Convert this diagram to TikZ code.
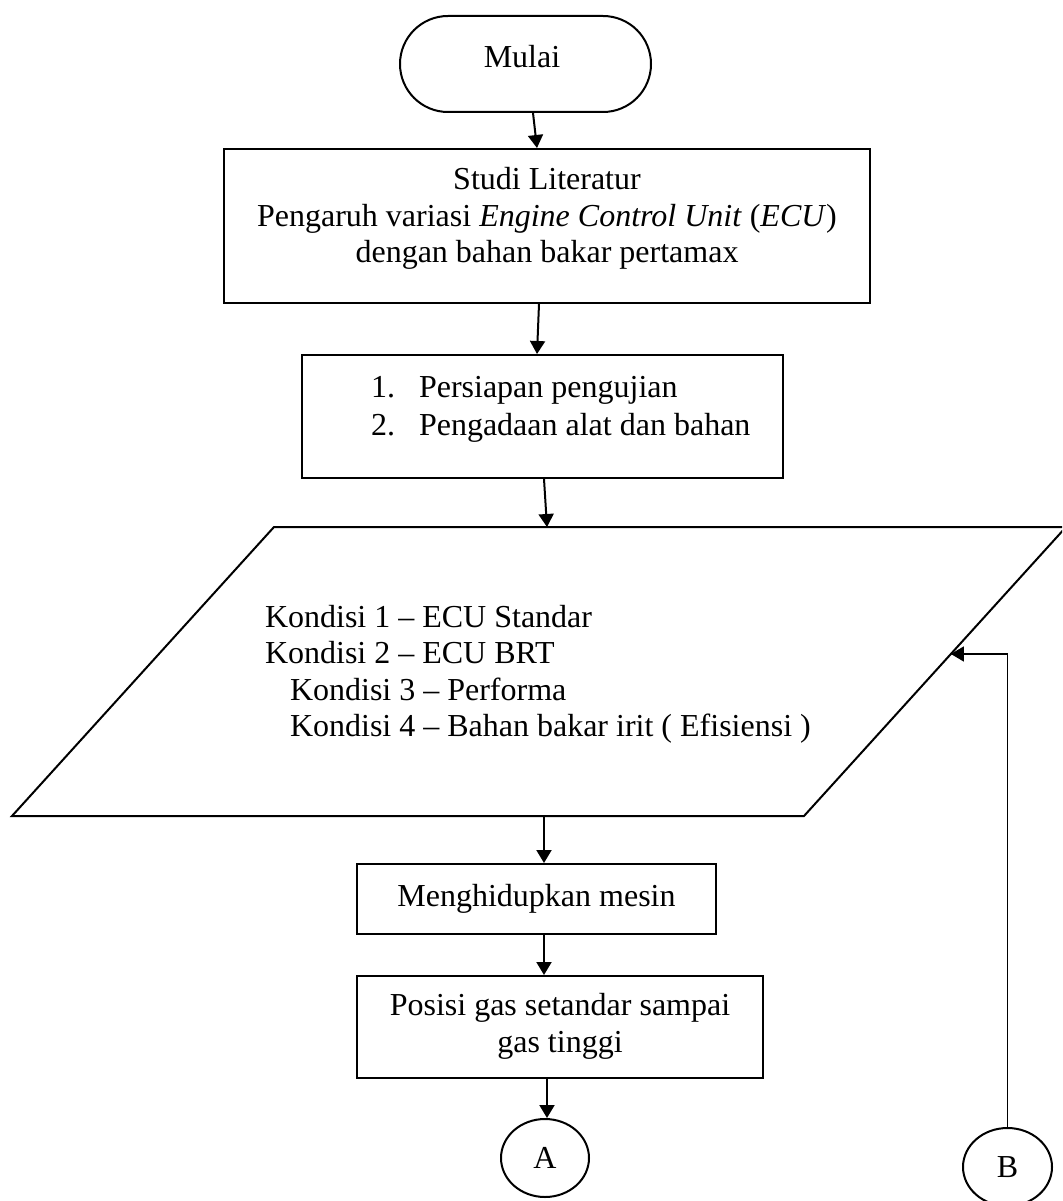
\documentclass[tikz,border=0pt]{standalone}
\usepackage{fontspec}
\setmainfont{Liberation Serif}
\usetikzlibrary{arrows.meta,calc,shapes.geometric}
\begin{document}
\begin{tikzpicture}[x=1pt,y=-1pt,
  line width=2pt,
  arr/.style={-{Triangle[length=13pt,width=15pt]}, line width=2pt},
  boxs/.style={draw, line width=2pt, inner sep=0pt},
  txt/.style={font=\fontsize{32}{36.5}\selectfont, inner sep=0pt},
  conn/.style={draw, ellipse, line width=2pt, inner sep=0pt, minimum width=88pt, minimum height=78pt, font=\fontsize{32}{36.5}\selectfont}
]
\useasboundingbox (0,0) rectangle (1062,1201);
\clip (0,0) rectangle (1062,1201);

% Mulai
\node[boxs, rounded corners=48pt, minimum width=251pt, minimum height=96pt] (mulai) at (525.5,64) {};
\node[txt] (mulaitxt) at (522,57) {Mulai};

% Studi literatur
\node[boxs, minimum width=646pt, minimum height=154pt] (studi) at (547,226) {};
\node[txt, align=center] (studitxt) at (547,218.5) {Studi Literatur\\Pengaruh variasi \textit{Engine Control Unit} (\textit{ECU})\\dengan bahan bakar pertamax};

% Persiapan
\node[boxs, minimum width=481pt, minimum height=123pt] (persiapan) at (542.5,416.5) {};
\node[txt, font=\fontsize{32}{38}\selectfont, anchor=west] (persiapantxt) at (370,408.4)
  {\begin{tabular}{@{}l@{\hspace{24pt}}l@{}}1.&Persiapan pengujian\\2.&Pengadaan alat dan bahan\end{tabular}};

% Parallelogram (input data)
\coordinate (p1) at (274,527);
\coordinate (p2) at (1066,527);
\coordinate (p3) at (804,816);
\coordinate (p4) at (12,816);
\draw[line width=2pt, line join=miter] (p1) -- (p2) -- (p3) -- (p4) -- cycle;
\node[txt, align=left, anchor=west] (kondisi) at (264,674.5)
  {Kondisi 1 -- ECU Standar\\Kondisi 2 -- ECU BRT\\\hspace*{25pt}Kondisi 3 -- Performa\\\hspace*{25pt}Kondisi 4 -- Bahan bakar irit ( Efisiensi )};
\coordinate (ptop) at (547,527);
\coordinate (pbot) at (544,816);
\coordinate (pin) at ($(p2)!0.4394!(p3)$);

% Menghidupkan mesin
\node[boxs, txt, draw, line width=2pt, minimum width=359pt, minimum height=70pt] (mesin) at (536.5,899) {Menghidupkan mesin};

% Posisi gas
\node[boxs, minimum width=406pt, minimum height=102pt] (posisi) at (560,1027) {};
\node[txt, align=center] (posisitxt) at (560,1026.5) {Posisi gas setandar sampai\\gas tinggi};

% Connectors A and B
\node[conn] (A) at (545,1158) {A};
\node[conn, minimum width=89pt] (B) at (1007.5,1167) {B};

% Arrows
\draw[arr] ([xshift=7.5pt]mulai.south) -- ([xshift=-10pt]studi.north);
\draw[arr] ([xshift=-8pt]studi.south) -- ([xshift=-5.5pt]persiapan.north);
\draw[arr] ([xshift=1.5pt]persiapan.south) -- (ptop);
\draw[arr] (pbot) -- ([xshift=7.5pt]mesin.north);
\draw[arr] ([xshift=7.5pt]mesin.south) -- ([xshift=-16pt]posisi.north);
\draw[arr] ([xshift=-13pt]posisi.south) -- ([xshift=2pt]A.north);
\draw[arr, line width=1.6pt] (B.north) |- (pin);
\end{tikzpicture}
\end{document}
